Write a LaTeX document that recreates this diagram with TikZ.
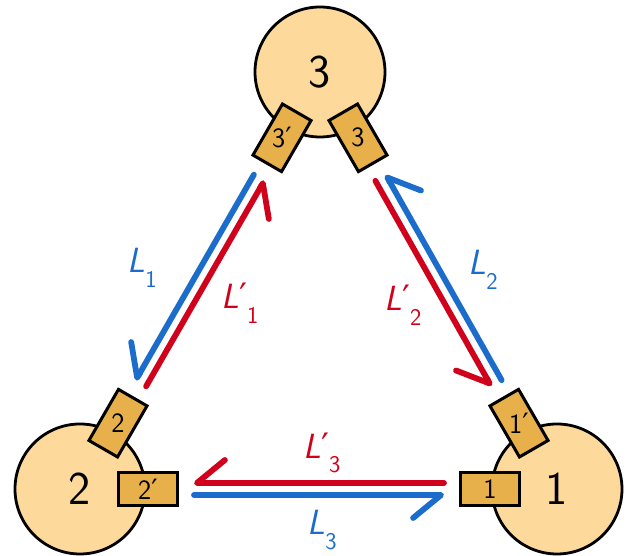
\documentclass[tikz,border=0pt]{standalone}
\usepackage{fontspec}
\usepackage{graphicx}
\usetikzlibrary{arrows.meta, positioning, calc}
\newfontfamily\primefont{DejaVu Sans}
\definecolor{nodefill}{HTML}{FDD99B}
\definecolor{portfill}{HTML}{E8B04A}
\definecolor{linkblue}{HTML}{1C6DCB}
\definecolor{linkred}{HTML}{D0021B}

\newcommand{\pr}{{\primefont ′}}
\newcommand{\lnk}[2]{{\itshape L}#1\raisebox{-0.42em}{\fontsize{24}{24}\selectfont #2}}

\begin{document}
\begin{tikzpicture}[
    x=1pt, y=1pt,
    station/.style={
      circle, draw=black, line width=2.8pt, fill=nodefill,
      minimum size=130pt, inner sep=0pt,
      font=\fontsize{47}{47}\selectfont\sffamily
    },
    port/.style={
      rectangle, draw=black, line width=3pt, fill=portfill,
      minimum width=59pt, minimum height=33pt, inner sep=0pt,
      font=\fontsize{28}{28}\selectfont\sffamily
    },
    fwd/.style={linkblue, line width=5.8pt, line cap=round,
      -{Straight Barb[right, round, length=28pt, width=46pt]}},
    bwd/.style={linkred, line width=5.8pt, line cap=round,
      -{Straight Barb[right, round, length=28pt, width=46pt]}},
    lbl/.style={font=\fontsize{35}{35}\selectfont\sffamily},
  ]
  \useasboundingbox (-80,-67) rectangle (555,489);

  \node[station] (n2) at (0,0) {2};
  \node[station] (n1) at (477,0) {1};
  \node[station] (n3) at (240,417) {3};

  \node[port, rotate=60] (p3b) at ($(n3)+(240:76)$) {\rotatebox{-60}{3\pr}};
  \node[port, rotate=-60] (p3a) at ($(n3)+(300:76)$) {\rotatebox{60}{3}};
  \node[port, rotate=60] (p2a) at ($(n2)+(60:76)$) {\rotatebox{-60}{2}};
  \node[port] (p2b) at ($(n2)+(0:68)$) {2\pr};
  \node[port] (p1a) at ($(n1)+(180:67)$) {1};
  \node[port, rotate=-60] (p1b) at ($(n1)+(120:76)$) {\rotatebox{60}{1\pr}};

  % Links
  \draw[fwd] ($(p3b)!46pt!(p2a)!6pt!-90:(p2a)$) -- ($(p2a)!46pt!(p3b)!6pt!90:(p3b)$);
  \draw[bwd] ($(p2a)!46pt!(p3b)!6pt!-90:(p3b)$) -- ($(p3b)!46pt!(p2a)!6pt!90:(p2a)$);
  \draw[fwd] ($(p1b)!46pt!(p3a)!6pt!-90:(p3a)$) -- ($(p3a)!46pt!(p1b)!6pt!90:(p1b)$);
  \draw[bwd] ($(p3a)!46pt!(p1b)!6pt!-90:(p1b)$) -- ($(p1b)!46pt!(p3a)!6pt!90:(p3a)$);
  \draw[fwd] ($(p2b)!46pt!(p1a)!6pt!-90:(p1a)$) -- ($(p1a)!46pt!(p2b)!6pt!90:(p2b)$);
  \draw[bwd] ($(p1a)!46pt!(p2b)!6pt!-90:(p2b)$) -- ($(p2b)!46pt!(p1a)!6pt!90:(p1a)$);

  % Labels
  \node[lbl, text=linkblue] (l1) at (62,221) {\lnk{}{1}};
  \node[lbl, text=linkred] (l1p) at (160,186) {\lnk{\pr}{1}};
  \node[lbl, text=linkblue] (l2) at (403,219) {\lnk{}{2}};
  \node[lbl, text=linkred] (l2p) at (323,184) {\lnk{\pr}{2}};
  \node[lbl, text=linkred] (l3p) at (242,36) {\lnk{\pr}{3}};
  \node[lbl, text=linkblue] (l3) at (242,-41) {\lnk{}{3}};

\end{tikzpicture}
\end{document}
